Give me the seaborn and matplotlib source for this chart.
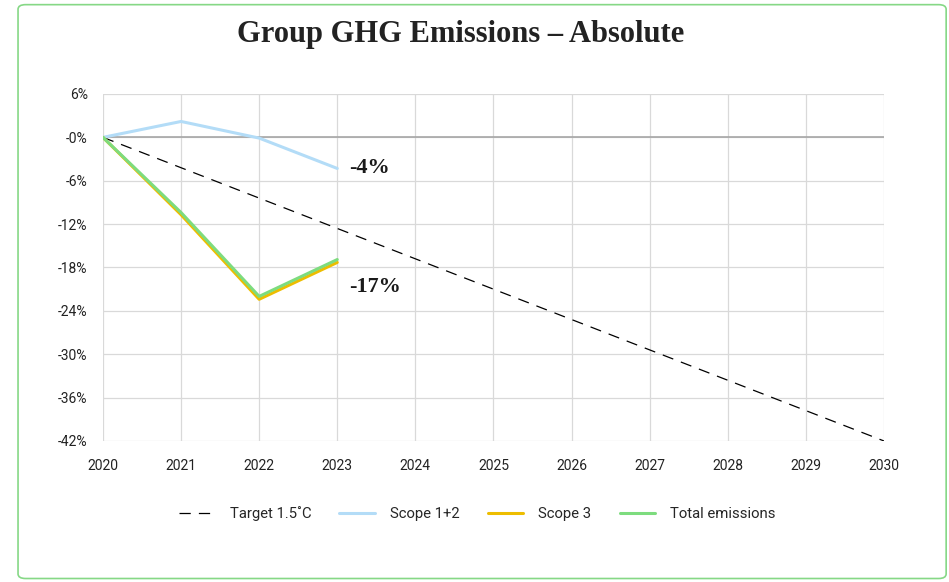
import matplotlib
matplotlib.use("Agg")
import matplotlib.pyplot as plt
import seaborn as sns
import pandas as pd
from matplotlib.patches import FancyBboxPatch
from matplotlib.ticker import FuncFormatter

years = [2020, 2021, 2022, 2023]
scope12 = [0.0, 2.2, -0.1, -4.3]
scope3 = [0.0, -10.7, -22.4, -17.3]
total = [0.0, -10.4, -22.0, -16.9]
target_years = [2020, 2030]
target_vals = [0.0, -42.0]
series_names = ["Target 1.5˚C", "Scope 1+2", "Scope 3", "Total emissions"]
colors = ["#000000", "#b3dcf7", "#edbd00", "#7ddc7e"]
yticks = [6, 0, -6, -12, -18, -24, -30, -36, -42]
xticks = list(range(2020, 2031))

rows = []
for x, y in zip(target_years, target_vals):
    rows.append((series_names[0], x, y))
for name, vals in zip(series_names[1:], [scope12, scope3, total]):
    for x, y in zip(years, vals):
        rows.append((name, x, y))
df = pd.DataFrame(rows, columns=["series", "year", "value"])

sns.set_style("white")
plt.rcParams["font.family"] = ["Roboto", "DejaVu Sans"]

fig = plt.figure(figsize=(9.49, 5.82), dpi=100)
ax = fig.add_axes([0.1085, 0.2423, 0.823, 0.5962])

border = FancyBboxPatch((0.019, 0.006), 0.978, 0.986, boxstyle="round,pad=0,rounding_size=0.008",
                        transform=fig.transFigure, facecolor="none", edgecolor="#86d886", linewidth=1.2)
fig.patches.append(border)

palette = dict(zip(series_names, colors))
for name in series_names:
    sub = df[df.series == name]
    if name == series_names[0]:
        sns.lineplot(data=sub, x="year", y="value", ax=ax, color=palette[name], lw=0.9,
                     linestyle=(0, (9, 6.5)), label=name)
    else:
        sns.lineplot(data=sub, x="year", y="value", ax=ax, color=palette[name], lw=2.2,
                     label=name)

ax.axhline(0, color="#a6a6a6", lw=1.2, zorder=1)
ax.set_xlim(2020, 2030)
ax.set_ylim(-42, 6)
ax.set_xticks(xticks)
ax.set_yticks(yticks)
ax.yaxis.set_major_formatter(FuncFormatter(lambda v, p: "-0%" if v == 0 else f"{int(v)}%"))
ax.grid(True, color="#d9d9d9", lw=0.9)
ax.set_axisbelow(True)
for s in ax.spines.values():
    s.set_visible(False)
ax.set_xlabel("")
ax.set_ylabel("")
ax.tick_params(axis="both", length=0, labelsize=10, colors="#222222")
ax.tick_params(axis="x", pad=13)
ax.tick_params(axis="y", pad=11)

ax.text(2023.15, -4.3, "-4%", fontsize=16, fontweight="bold", family="Liberation Serif",
        color="#1a1a1a", va="center", ha="left")
ax.text(2023.15, -20.7, "-17%", fontsize=16, fontweight="bold", family="Liberation Serif",
        color="#1a1a1a", va="center", ha="left")

fig.text(0.485, 0.94, "Group GHG Emissions – Absolute", ha="center", va="center",
         fontsize=22, fontweight="bold", family="Liberation Serif", color="#222222")

handles, labels = ax.get_legend_handles_labels()
ax.legend_.remove()
fig.legend(handles, labels, loc="center", bbox_to_anchor=(0.503, 0.117), ncol=4, frameon=False,
           fontsize=10.7, handlelength=2.4, columnspacing=1.9, handletextpad=1.0)

fig.savefig("out.png", dpi=100)
